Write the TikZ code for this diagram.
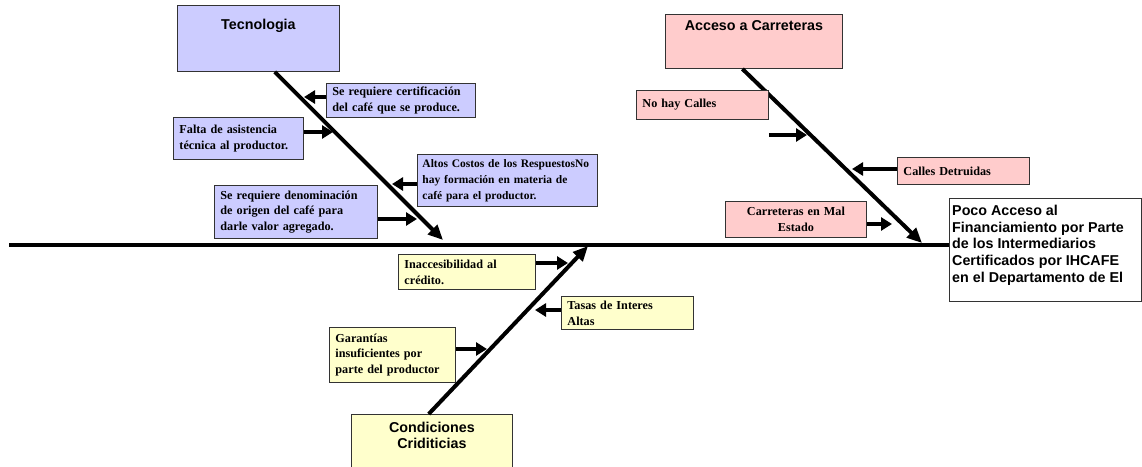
\documentclass[tikz,border=0pt]{standalone}
\usepackage{fontspec}
\setmainfont{Liberation Serif}[WordSpace=0.75]
\setsansfont{Liberation Sans}
\usepackage{xcolor}
\usetikzlibrary{positioning,calc,arrows.meta}
\definecolor{tecfill}{HTML}{CCCCFF}
\definecolor{accfill}{HTML}{FFCCCC}
\definecolor{condfill}{HTML}{FFFFCC}

\begin{document}
\begin{tikzpicture}[x=1pt,y=-1pt,
    catbox/.style={draw=black!80, line width=0.9pt, anchor=north west},
    cattext/.style={font=\sffamily\bfseries\fontsize{14.3}{16.7}\selectfont, align=center, inner sep=0pt, anchor=north},
    causa/.style={draw=black!80, line width=0.9pt, anchor=north west, align=left, inner xsep=6pt, inner ysep=1pt, font=\bfseries\fontsize{12.2}{15.8}\selectfont},
    spine/.style={line width=4.5pt},
    branch/.style={line width=4pt, -{Triangle[length=15pt,width=13pt]}},
    sub/.style={line width=3.5pt, -{Triangle[length=11pt,width=13pt]}}]
    \useasboundingbox (0,0) rectangle (1142,466);

    % Effect
    \node[catbox, minimum width=192, minimum height=103] (eff) at (949,198) {};
    \node[cattext, anchor=north west, align=left] (effLbl) at ([xshift=3pt,yshift=-7pt]eff.north west)
        {Poco Acceso al\\Financiamiento por Parte\\de los Intermediarios\\Certificados por IHCAFE\\en el Departamento de El};

    % Spine
    \coordinate (tail) at (9,245);
    \draw[spine] (tail) -- (eff.west |- tail);

    % Categories
    \node[catbox, fill=tecfill, minimum width=162, minimum height=66] (tec) at (177,5) {};
    \node[cattext] (tecLbl) at ([yshift=-14pt]tec.north) {Tecnologia};
    \node[catbox, fill=accfill, minimum width=177, minimum height=54] (acc) at (665,14) {};
    \node[cattext] (accLbl) at ([yshift=-6pt]acc.north) {Acceso a Carreteras};
    \node[catbox, fill=condfill, minimum width=161, minimum height=70] (cond) at (351,414) {};
    \node[cattext] (condLbl) at ([yshift=-7.5pt]cond.north) {Condiciones\\Criditicias};

    % Branch tips
    \coordinate (tecTip) at (443,240);
    \coordinate (accTip) at (922,243);
    \coordinate (condTip) at (588,246);
    \draw[branch] ($(tec.south west)!0.6!(tec.south east)$) -- (tecTip);
    \draw[branch] ($(acc.south west)!0.435!(acc.south east)$) -- (accTip);
    \draw[branch] ($(cond.north west)!0.48!(cond.north east)$) -- (condTip);

    % Causes - Tecnologia
    \node[causa, fill=tecfill, text width=137, minimum height=34] (cert) at (326,83)
        {Se requiere certificación\\del café que se produce.};
    \node[causa, fill=tecfill, text width=118, minimum height=42] (falta) at (173,117)
        {Falta de asistencia\\técnica al productor.};
    \node[causa, fill=tecfill, text width=170, inner xsep=5pt, minimum height=52, font=\bfseries\fontsize{11.5}{15.8}\selectfont] (altos) at (417,154)
        {\mbox{Altos Costos de los RespuestosNo}\\hay formación en materia de\\café para el productor.};
    \node[causa, fill=tecfill, text width=151, minimum height=53] (denom) at (214,185)
        {Se requiere denominación\\de origen del café para\\darle valor agregado.};

    % Causes - Acceso a Carreteras
    \node[causa, fill=accfill, text width=120, minimum height=29] (nohay) at (636,90) {No hay Calles};
    \node[causa, fill=accfill, text width=120, minimum height=27] (calles) at (897,157) {Calles Detruidas};
    \node[causa, fill=accfill, text width=129, minimum height=36, align=center] (mal) at (725,201)
        {Carreteras en Mal\\Estado};

    % Causes - Condiciones Criditicias
    \node[causa, fill=condfill, text width=125, minimum height=35] (inacc) at (398,254)
        {Inaccesibilidad al\\crédito.};
    \node[causa, fill=condfill, text width=120, minimum height=33] (tasas) at (561,296)
        {Tasas de Interes\\Altas};
    \node[causa, fill=condfill, text width=114, minimum height=55] (garan) at (329,327)
        {Garantías\\insuficientes por\\parte del productor};

    % Sub arrows
    \coordinate (t1) at (304,97);
    \coordinate (t2) at (333,132);
    \coordinate (t3) at (392,184);
    \coordinate (t4) at (417,219);
    \coordinate (t5) at (807,135);
    \coordinate (t6) at (852,169);
    \coordinate (t7) at (892,224);
    \coordinate (t8) at (568,263);
    \coordinate (t9) at (535,310);
    \coordinate (t10) at (487,349);
    \draw[sub] (cert.west |- t1) -- (t1);
    \draw[sub] (falta.east |- t2) -- (t2);
    \draw[sub] (altos.west |- t3) -- (t3);
    \draw[sub] (denom.east |- t4) -- (t4);
    \draw[sub] (nohay.east |- t5) -- (t5);
    \draw[sub] (calles.west |- t6) -- (t6);
    \draw[sub] (mal.east |- t7) -- (t7);
    \draw[sub] (inacc.east |- t8) -- (t8);
    \draw[sub] (tasas.west |- t9) -- (t9);
    \draw[sub] (garan.east |- t10) -- (t10);
\end{tikzpicture}
\end{document}
